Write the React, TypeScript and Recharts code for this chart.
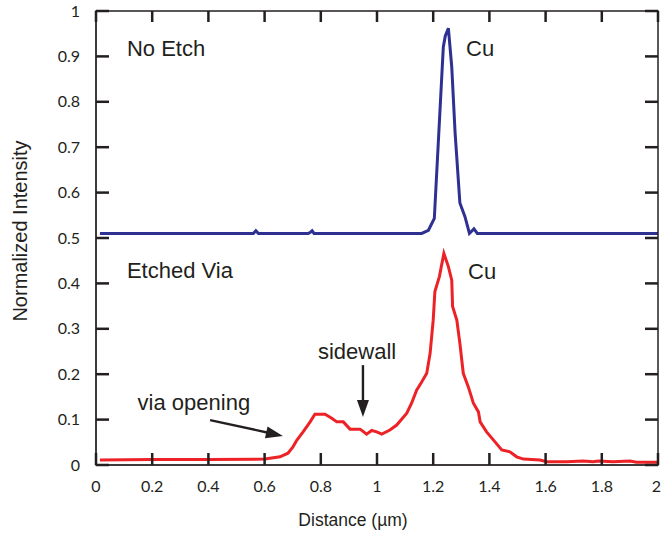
import React from 'react';
import { LineChart, Line, XAxis, YAxis, ReferenceDot, ReferenceLine } from 'recharts';

// No Etch (blue) profile
const noEtchDistance = [0.014, 0.5, 0.56, 0.569, 0.578, 0.755, 0.762, 0.769, 0.776, 1.159, 1.183, 1.204, 1.236, 1.243, 1.254, 1.266, 1.278, 1.295, 1.313, 1.329, 1.345, 1.357, 2.0];
const noEtchIntensity = [0.51, 0.51, 0.51, 0.516, 0.51, 0.51, 0.512, 0.516, 0.51, 0.51, 0.517, 0.543, 0.921, 0.945, 0.962, 0.877, 0.731, 0.577, 0.547, 0.51, 0.52, 0.51, 0.51];

// Etched Via (red) profile
const etchedDistance = [0.014, 0.2, 0.4, 0.601, 0.655, 0.683, 0.701, 0.715, 0.737, 0.762, 0.779, 0.815, 0.839, 0.857, 0.88, 0.904, 0.94, 0.963, 0.981, 0.999, 1.017, 1.046, 1.07, 1.106, 1.123, 1.141, 1.159, 1.177, 1.189, 1.2, 1.206, 1.222, 1.238, 1.254, 1.266, 1.269, 1.284, 1.295, 1.307, 1.325, 1.343, 1.361, 1.367, 1.39, 1.42, 1.444, 1.473, 1.497, 1.521, 1.58, 1.604, 1.675, 1.734, 1.769, 1.787, 1.84, 1.9, 1.924, 2.0];
const etchedIntensity = [0.011, 0.012, 0.012, 0.013, 0.018, 0.026, 0.04, 0.055, 0.073, 0.095, 0.112, 0.112, 0.103, 0.095, 0.095, 0.079, 0.079, 0.068, 0.076, 0.073, 0.068, 0.077, 0.088, 0.114, 0.136, 0.165, 0.183, 0.202, 0.246, 0.319, 0.382, 0.415, 0.466, 0.437, 0.407, 0.349, 0.319, 0.268, 0.202, 0.172, 0.136, 0.117, 0.095, 0.073, 0.051, 0.033, 0.029, 0.018, 0.013, 0.011, 0.007, 0.007, 0.009, 0.007, 0.009, 0.007, 0.009, 0.006, 0.006];

// Axis ticks
const xTicks = [0, 0.2, 0.4, 0.6, 0.8, 1, 1.2, 1.4, 1.6, 1.8, 2];
const xTickLabels = ['0', '0.2', '0.4', '0.6', '0.8', '1', '1.2', '1.4', '1.6', '1.8', '2'];
const yTicks = [0, 0.1, 0.2, 0.3, 0.4, 0.5, 0.6, 0.7, 0.8, 0.9, 1];
const yTickLabels = ['0', '0.1', '0.2', '0.3', '0.4', '0.5', '0.6', '0.7', '0.8', '0.9', '1'];

// Axis titles
const xTitle = 'Distance (µm)';
const yTitle = 'Normalized Intensity';

// Annotations (text anchored at left baseline)
const annotationTexts = ['No Etch', 'Cu', 'Etched Via', 'Cu', 'sidewall', 'via opening'];
const annotationX = [0.11, 1.317, 0.11, 1.324, 0.79, 0.148];
const annotationY = [0.901, 0.901, 0.412, 0.41, 0.233, 0.121];

// Arrows: [x1, y1, x2, y2]
const arrowSegments = [
  [0.406, 0.099, 0.665, 0.064],
  [0.95, 0.22, 0.95, 0.106],
];

const noEtchData = noEtchDistance.map((x, i) => ({ x, y: noEtchIntensity[i] }));
const etchedData = etchedDistance.map((x, i) => ({ x, y: etchedIntensity[i] }));

// layout
const CHART_W = 661;
const CHART_H = 535;
const MARGIN = { top: 11, right: 3, bottom: 0, left: 0 };
const Y_AXIS_W = 96;
const X_AXIS_H = 70;
const PLOT_LEFT = MARGIN.left + Y_AXIS_W;
const PLOT_TOP = MARGIN.top;
const PLOT_W = CHART_W - PLOT_LEFT - MARGIN.right;
const PLOT_H = CHART_H - PLOT_TOP - MARGIN.bottom - X_AXIS_H;

const X_MIN = 0;
const X_MAX = 2;
const Y_MIN = 0;
const Y_MAX = 1;
const X_TICK_PX_BOTTOM = 12;
const X_TICK_PX_TOP = 11;
const Y_TICK_PX = 13;

const INK = '#231f20';
const SANS = "'Liberation Sans', Arial, sans-serif";
const tickFont = { fontFamily: 'Lato, sans-serif', fontSize: 16, fill: INK };

const fmtY = (v: number) => {
  const i = yTicks.findIndex((t) => Math.abs(t - v) < 1e-6);
  return i >= 0 ? yTickLabels[i] : '';
};

const XTick = (p: any) => {
  const v = p.payload.value;
  const i = xTicks.findIndex((t) => Math.abs(t - v) < 1e-6);
  const last = i === xTicks.length - 1;
  return (
    <text
      x={last ? p.x + 3 : p.x}
      y={p.y}
      dy="0.71em"
      textAnchor={last ? 'end' : 'middle'}
      fontFamily="Lato, sans-serif"
      fontSize={16}
      fill={INK}
    >
      {i >= 0 ? xTickLabels[i] : ''}
    </text>
  );
};

const makeText = (txt: string) => (p: any) => (
  <g>
    <text x={p.cx} y={p.cy} fontFamily={SANS} fontSize={22} fill={INK}>
      {txt}
    </text>
  </g>
);

const XTitleShape = (p: any) => (
  <g>
    <text x={p.cx - 24} y={p.cy + 61} textAnchor="middle" fontFamily={SANS} fontSize={17.5} fill={INK}>
      {xTitle}
    </text>
  </g>
);

const YTitleShape = (p: any) => {
  const cx = p.cx - 76;
  const cy = p.cy - 7;
  return (
    <g>
      <text
        x={cx}
        y={cy}
        transform={`rotate(-90 ${cx} ${cy})`}
        textAnchor="middle"
        dominantBaseline="central"
        fontFamily={SANS}
        fontSize={20}
        fill={INK}
      >
        {yTitle}
      </text>
    </g>
  );
};

const Arrow = (p: any) => {
  const { x1, y1, x2, y2 } = p;
  const dx = x2 - x1;
  const dy = y2 - y1;
  const len = Math.hypot(dx, dy) || 1;
  const ux = dx / len;
  const uy = dy / len;
  const hl = 17;
  const hw = 6;
  const bx = x2 - ux * hl;
  const by = y2 - uy * hl;
  return (
    <g>
      <line x1={x1} y1={y1} x2={bx + ux * 2} y2={by + uy * 2} stroke={INK} strokeWidth={2.4} />
      <polygon
        points={`${x2},${y2} ${bx - uy * hw},${by + ux * hw} ${bx + uy * hw},${by - ux * hw}`}
        fill={INK}
      />
    </g>
  );
};

// linear maps matching the chart's axis domains onto the plot area
const px = (v: number) => PLOT_LEFT + ((v - X_MIN) / (X_MAX - X_MIN)) * PLOT_W;
const py = (v: number) => PLOT_TOP + PLOT_H - ((v - Y_MIN) / (Y_MAX - Y_MIN)) * PLOT_H;

// plot frame with inward ticks on all four sides
const FrameOverlay = () => (
  <svg
    width={CHART_W}
    height={CHART_H}
    style={{ position: 'absolute', left: 0, top: 0, pointerEvents: 'none' }}
  >
    <rect x={PLOT_LEFT} y={PLOT_TOP} width={PLOT_W} height={PLOT_H} fill="none" stroke={INK} strokeWidth={1.5} />
    {xTicks.map((t, i) => (
      <g key={`xt-${i}`}>
        <line x1={px(t)} y1={py(Y_MIN)} x2={px(t)} y2={py(Y_MIN) - X_TICK_PX_BOTTOM} stroke={INK} strokeWidth={2.5} />
        <line x1={px(t)} y1={py(Y_MAX)} x2={px(t)} y2={py(Y_MAX) + X_TICK_PX_TOP} stroke={INK} strokeWidth={2.5} />
      </g>
    ))}
    {yTicks.map((t, i) => (
      <g key={`yt-${i}`}>
        <line x1={px(X_MIN)} y1={py(t)} x2={px(X_MIN) + Y_TICK_PX} y2={py(t)} stroke={INK} strokeWidth={2.5} />
        <line x1={px(X_MAX)} y1={py(t)} x2={px(X_MAX) - Y_TICK_PX} y2={py(t)} stroke={INK} strokeWidth={2.5} />
      </g>
    ))}
  </svg>
);

export default function App() {
  return (
    <div style={{ position: 'absolute', left: 0, top: 0, width: CHART_W, height: CHART_H }}>
      <LineChart width={CHART_W} height={CHART_H} margin={MARGIN}>
        <XAxis
          type="number"
          dataKey="x"
          domain={[X_MIN, X_MAX]}
          ticks={xTicks}
          interval={0}
          height={X_AXIS_H}
          tickSize={6}
          tickMargin={10}
          tick={XTick}
          stroke={INK}
          tickLine={false}
        />
        <YAxis
          type="number"
          domain={[Y_MIN, Y_MAX]}
          ticks={yTicks}
          interval={0}
          tickFormatter={fmtY}
          width={Y_AXIS_W}
          tickSize={6}
          tickMargin={10}
          tick={tickFont}
          stroke={INK}
          tickLine={false}
        />

        <Line
          data={noEtchData}
          dataKey="y"
          type="linear"
          stroke="#2e3192"
          strokeWidth={3}
          dot={false}
          isAnimationActive={false}
        />
        <Line
          data={etchedData}
          dataKey="y"
          type="linear"
          stroke="#ec2227"
          strokeWidth={3}
          dot={false}
          isAnimationActive={false}
        />

        {arrowSegments.map((s, i) => (
          <ReferenceLine
            key={`arrow-${i}`}
            segment={[
              { x: s[0], y: s[1] },
              { x: s[2], y: s[3] },
            ]}
            shape={Arrow}
            ifOverflow="visible"
          />
        ))}
        {annotationTexts.map((t, i) => (
          <ReferenceDot
            key={`ann-${i}`}
            x={annotationX[i]}
            y={annotationY[i]}
            r={0}
            shape={makeText(t)}
            ifOverflow="visible"
          />
        ))}

        <ReferenceDot x={(X_MIN + X_MAX) / 2} y={Y_MIN} r={0} shape={XTitleShape} ifOverflow="visible" />
        <ReferenceDot x={X_MIN} y={(Y_MIN + Y_MAX) / 2} r={0} shape={YTitleShape} ifOverflow="visible" />
      </LineChart>
      <FrameOverlay />
    </div>
  );
}
